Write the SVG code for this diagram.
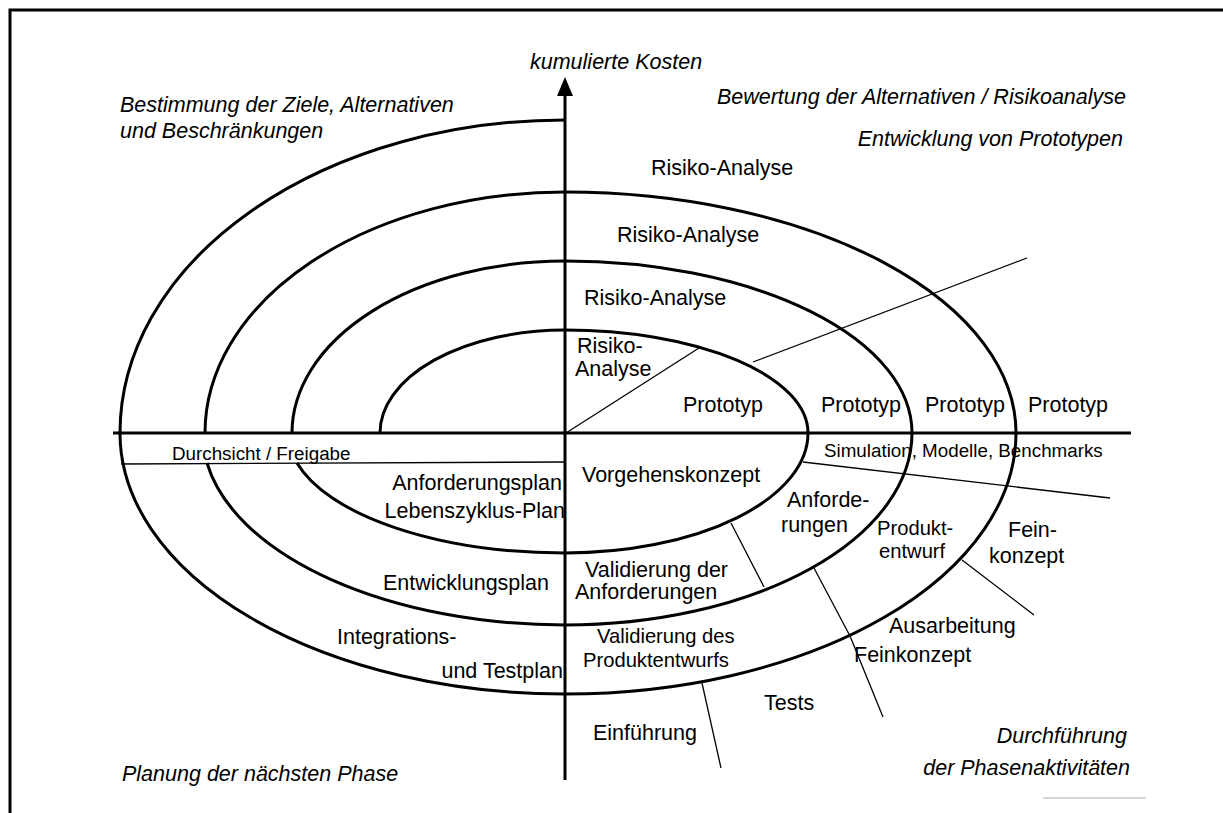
<svg xmlns="http://www.w3.org/2000/svg" width="1223" height="813" viewBox="0 0 1223 813">
<style>
text{font-family:"Liberation Sans",Arial,sans-serif;fill:#000}
.t{font-size:21.5px}
.s{font-size:18.8px}
.m{font-size:20.2px}
.i{font-size:21.5px;font-style:italic}
.thick{fill:none;stroke:#000;stroke-width:3}
.thin{fill:none;stroke:#000;stroke-width:1.3}
</style>
<defs>
<marker id="arrow" markerWidth="16" markerHeight="20" refX="8" refY="1" orient="auto-start-reverse" markerUnits="userSpaceOnUse" viewBox="0 0 16 20">
<path d="M8,0 L16,19 L0,19 Z" fill="#000"/>
</marker>
</defs>
<rect width="1223" height="813" fill="#fff"/>
<path class="thick" d="M10,813 V10 H1223"/>

<g id="axes">
<line class="thick" x1="113" y1="433" x2="1131" y2="433"/>
<line class="thick" x1="565" y1="780" x2="565" y2="95"/>
<path d="M565,77 L573,96 L557,96 Z" fill="#000"/>
</g>

<g id="spiral">
<path class="thick" d="M380,433 A185,103 0 0 1 565,330 A243,103 0 0 1 808,433 A243,120 0 0 1 565,553 A277,120 0 0 1 297,463"/>
<path class="thick" d="M292,433 A273,172 0 0 1 565,261 A347,172 0 0 1 912,433 A347,192 0 0 1 565,625 A363,192 0 0 1 207,463"/>
<path class="thick" d="M205,433 A360,241 0 0 1 565,192 A451,241 0 0 1 1016,433 A451,261 0 0 1 565,694 A445,261 0 0 1 120,433 A445,313 0 0 1 565,120"/>
</g>

<g id="connectors">
<line class="thin" x1="121" y1="464" x2="565" y2="462"/>
<line class="thin" x1="566" y1="433" x2="699" y2="348"/>
<line class="thin" x1="753" y1="362" x2="1027" y2="258"/>
<line class="thin" x1="803" y1="462" x2="1110" y2="498"/>
<line class="thin" x1="731" y1="523" x2="764" y2="587"/>
<polyline class="thin" points="814,568 850,636 883,717"/>
<line class="thin" x1="962" y1="560" x2="1034" y2="615"/>
<line class="thin" x1="702" y1="683" x2="721" y2="768"/>
<line x1="1043" y1="798" x2="1146" y2="798" stroke="#c8c8c8" stroke-width="1.5"/>
</g>

<g id="quadrant-labels">
<text class="i" x="530" y="69">kumulierte Kosten</text>
<text class="i" x="120" y="112">Bestimmung der Ziele, Alternativen</text>
<text class="i" x="120" y="138">und Beschränkungen</text>
<text class="i" x="1126" y="104" text-anchor="end">Bewertung der Alternativen / Risikoanalyse</text>
<text class="i" x="1123" y="146" text-anchor="end">Entwicklung von Prototypen</text>
<text class="i" x="122" y="781">Planung der nächsten Phase</text>
<text class="i" x="1127" y="743" text-anchor="end">Durchführung</text>
<text class="i" x="1130" y="775" text-anchor="end">der Phasenaktivitäten</text>
</g>

<g id="risk-analysis">
<text class="t" x="651" y="175">Risiko-Analyse</text>
<text class="t" x="617" y="242">Risiko-Analyse</text>
<text class="t" x="584" y="305">Risiko-Analyse</text>
<text class="t" x="577" y="353">Risiko-</text>
<text class="t" x="575" y="376">Analyse</text>
</g>

<g id="prototypes">
<text class="t" x="683" y="412">Prototyp</text>
<text class="t" x="821" y="412">Prototyp</text>
<text class="t" x="925" y="412">Prototyp</text>
<text class="t" x="1028" y="412">Prototyp</text>
<text class="s" x="824" y="457">Simulation, Modelle, Benchmarks</text>
</g>

<g id="planning">
<text class="s" x="172" y="460">Durchsicht / Freigabe</text>
<text class="t" x="562" y="490" text-anchor="end">Anforderungsplan</text>
<text class="t" x="565" y="518" text-anchor="end">Lebenszyklus-Plan</text>
<text class="t" x="549" y="590" text-anchor="end">Entwicklungsplan</text>
<text class="t" x="337" y="644">Integrations-</text>
<text class="t" x="563" y="678" text-anchor="end">und Testplan</text>
</g>

<g id="development">
<text class="t" x="582" y="482">Vorgehenskonzept</text>
<text class="t" x="787" y="507">Anforde-</text>
<text class="t" x="781" y="532">rungen</text>
<text class="m" x="877" y="535">Produkt-</text>
<text class="m" x="879" y="558">entwurf</text>
<text class="t" x="1008" y="537">Fein-</text>
<text class="t" x="989" y="563">konzept</text>
<text class="t" x="585" y="577">Validierung der</text>
<text class="t" x="575" y="599">Anforderungen</text>
<text class="m" x="597" y="643">Validierung des</text>
<text class="m" x="583" y="667">Produktentwurfs</text>
<text class="t" x="889" y="633">Ausarbeitung</text>
<text class="t" x="854" y="662">Feinkonzept</text>
<text class="t" x="764" y="710">Tests</text>
<text class="t" x="593" y="740">Einführung</text>
</g>
</svg>
